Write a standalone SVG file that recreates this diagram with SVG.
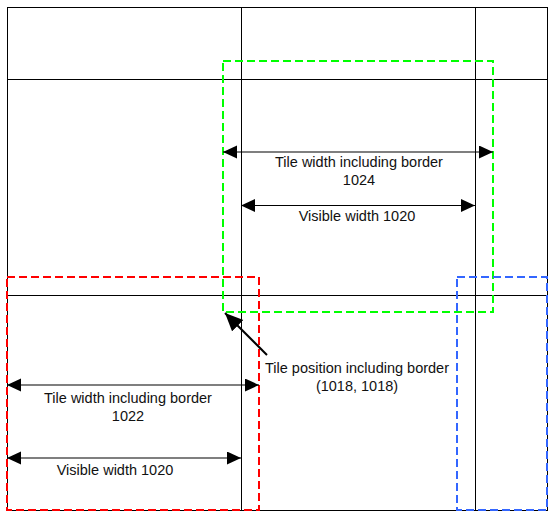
<svg xmlns="http://www.w3.org/2000/svg" width="556" height="518" viewBox="0 0 556 518">
<style>
.grid{fill:none;stroke:#000;stroke-width:1}
.dash{fill:none;stroke-width:2;stroke-dasharray:8 4}
.conn{stroke:#000;stroke-width:1.2;fill:none}
.diag{stroke:#000;stroke-width:2;fill:none}
text{font-family:"Liberation Sans",Arial,Helvetica,sans-serif;font-size:14.5px;fill:#111;text-anchor:middle}
</style>
<defs>
<marker id="ah" markerUnits="userSpaceOnUse" markerWidth="15" markerHeight="14" refX="14" refY="6.5" orient="auto-start-reverse" viewBox="0 0 15 14">
<path d="M0,0 L14,6.5 L0,13 Z" fill="#000"/>
</marker>
<marker id="ahBig" markerUnits="userSpaceOnUse" markerWidth="19" markerHeight="17" refX="18" refY="8" orient="auto" viewBox="0 0 19 17">
<path d="M0,0 L18,8 L0,16 Z" fill="#000"/>
</marker>
</defs>
<rect width="556" height="518" fill="#fff"/>
<g id="grid">
<rect class="grid" x="7.5" y="7.5" width="540" height="503"/>
<line class="grid" x1="241.5" y1="7.5" x2="241.5" y2="510.5"/>
<line class="grid" x1="475.5" y1="7.5" x2="475.5" y2="510.5"/>
<line class="grid" x1="7.5" y1="79.5" x2="547.5" y2="79.5"/>
<line class="grid" x1="7.5" y1="295.5" x2="547.5" y2="295.5"/>
</g>
<g id="green-tile"><rect class="dash" stroke="#00ff00" x="223" y="61" width="270" height="251"/></g>
<g id="red-tile"><rect class="dash" stroke="#ff0000" x="7" y="277" width="252" height="233"/></g>
<g id="blue-tile"><rect class="dash" stroke="#3366ff" x="457" y="277" width="90" height="233"/></g>
<g id="connectors">
<line class="conn" x1="223" y1="152" x2="493" y2="152" marker-start="url(#ah)" marker-end="url(#ah)"/>
<line class="conn" x1="241" y1="205.5" x2="475" y2="205.5" marker-start="url(#ah)" marker-end="url(#ah)"/>
<line class="conn" x1="7" y1="385" x2="259" y2="385" marker-start="url(#ah)" marker-end="url(#ah)"/>
<line class="conn" x1="7" y1="458" x2="241" y2="458" marker-start="url(#ah)" marker-end="url(#ah)"/>
<line class="diag" x1="267" y1="355" x2="225" y2="313" marker-end="url(#ahBig)"/>
</g>
<g id="labels">
<text x="359" y="167">Tile width including border</text>
<text x="359" y="185">1024</text>
<text x="357" y="221">Visible width 1020</text>
<text x="357" y="373">Tile position including border</text>
<text x="357" y="391">(1018, 1018)</text>
<text x="128" y="403">Tile width including border</text>
<text x="128" y="421">1022</text>
<text x="115" y="475">Visible width 1020</text>
</g>
</svg>
